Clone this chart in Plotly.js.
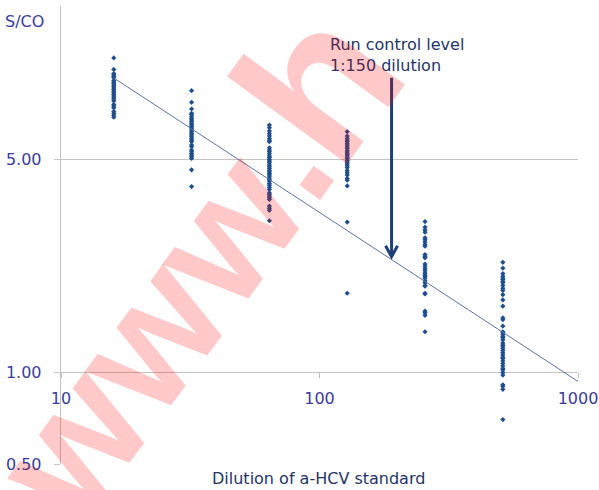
<!DOCTYPE html>
<html><head><meta charset="utf-8">
<script src="https://cdn.plot.ly/plotly-3.0.1.min.js"></script>
<style>html,body{margin:0;padding:0;background:#fff}#chart{width:599px;height:490px}</style>
</head><body><div id="chart"></div>
<script>
// Dilutions of the a-HCV standard (x) and S/CO readings (y)
const dilutions = [16, 32, 64, 128, 256, 512];
const sco16 = [10.8, 9.9, 9.6, 9.5, 9.4, 9.3, 9.1, 9.0, 8.9, 8.8, 8.7, 8.6, 8.5, 8.4, 8.3, 8.2, 8.1, 8.0, 7.9, 7.8, 7.6, 7.5, 7.4, 7.2, 7.1, 7.0, 6.9];
const sco32 = [8.43, 7.72, 7.34, 7.10, 7.02, 6.92, 6.83, 6.75, 6.67, 6.58, 6.50, 6.42, 6.34, 6.26, 6.18, 6.10, 6.03, 5.95, 5.87, 5.80, 5.73, 5.59, 5.52, 5.38, 5.31, 5.24, 5.18, 5.11, 5.05, 4.63, 4.08];
const sco64 = [6.50, 6.37, 6.21, 6.09, 5.98, 5.87, 5.79, 5.73, 5.47, 5.38, 5.31, 5.23, 5.14, 5.08, 5.01, 4.95, 4.89, 4.80, 4.74, 4.68, 4.61, 4.56, 4.50, 4.45, 4.39, 4.31, 4.26, 4.18, 4.12, 4.05, 3.99, 3.89, 3.85, 3.80, 3.75, 3.70, 3.52, 3.46, 3.41, 3.15];
const sco128 = [6.18, 5.98, 5.87, 5.79, 5.73, 5.64, 5.59, 5.50, 5.45, 5.36, 5.30, 5.23, 5.18, 5.10, 5.05, 4.97, 4.91, 4.85, 4.79, 4.71, 4.61, 4.53, 4.45, 4.34, 4.28, 4.10, 3.12, 1.82];
const sco256 = [3.13, 3.00, 2.94, 2.89, 2.77, 2.73, 2.68, 2.63, 2.60, 2.44, 2.41, 2.38, 2.27, 2.23, 2.19, 2.16, 2.12, 2.09, 2.07, 2.04, 2.00, 1.97, 1.93, 1.92, 1.82, 1.81, 1.59, 1.57, 1.54, 1.36];
const sco512 = [2.30, 2.20, 2.11, 2.07, 2.04, 2.02, 1.99, 1.97, 1.93, 1.89, 1.86, 1.80, 1.73, 1.65, 1.51, 1.49, 1.42, 1.36, 1.35, 1.33, 1.31, 1.30, 1.28, 1.25, 1.23, 1.22, 1.20, 1.18, 1.16, 1.14, 1.12, 1.11, 1.09, 1.07, 1.05, 1.03, 1.02, 1.00, 0.98, 0.91, 0.90, 0.88, 0.70];
const scoGroups = [sco16, sco32, sco64, sco128, sco256, sco512];

// Power trend line end points
const trendX = [16, 1000];
const trendY = [9.28, 0.934];

// Run control annotation (dilution 1:150 marker arrow)
const arrowX = 190;
const arrowFromY = 9.3;
const arrowToY = 2.4;

const xTickVals = [10, 100, 1000];
const xTickText = ['10', '100', '1000'];
const yTickVals = [0.5, 1, 5];
const yTickText = ['0.50', '1.00', '5.00'];
const yMin = 0.5, yMax = 16;

// Watermark letters, their centres (pixels) and sizes
const wmLetters = ['w', 'w', 'w', '.', 'h'];
const wmCentres = [[71, 443], [148.5, 336], [226, 229], [279, 156], [317, 83]];
const wmSizes = [170, 170, 170, 170, 205];

const W = 599, H = 490;
const M = {l: 61, r: 21, t: 6, b: 26};
const pw = W - M.l - M.r, ph = H - M.t - M.b;
const px2x = px => (px - M.l) / pw;
const py2y = py => (H - M.b - py) / ph;

const FONT = 'DejaVu Sans, sans-serif';
const tickColor = '#3c3c98';
const navy = '#1f3566';
const markerColor = '#1f4e8c';

const traces = scoGroups.map((vals, i) => ({
  type: 'scatter', mode: 'markers',
  x: vals.map(() => dilutions[i]), y: vals,
  marker: {symbol: 'diamond', size: 4, color: markerColor},
  showlegend: false, hoverinfo: 'x+y'
}));
traces.push({
  type: 'scatter', mode: 'lines', x: trendX, y: trendY,
  line: {color: '#5a72a2', width: 1}, showlegend: false, hoverinfo: 'skip'
});

const lyMin = Math.log10(yMin), lyMax = Math.log10(yMax);

const wmAnnotations = wmLetters.map((ch, i) => ({
  xref: 'paper', yref: 'paper', x: px2x(wmCentres[i][0]), y: py2y(wmCentres[i][1]),
  text: ch, showarrow: false, xanchor: 'center', yanchor: 'middle', textangle: -54,
  font: {family: 'Liberation Sans, Arial, sans-serif', size: wmSizes[i],
         color: 'rgba(255,0,0,0.21)', weight: 'bold'}
}));

const layout = {
  width: W, height: H,
  margin: M,
  paper_bgcolor: '#fff', plot_bgcolor: '#fff',
  font: {family: FONT, size: 16, color: tickColor},
  xaxis: {
    type: 'log', range: [1, 3],
    tickvals: xTickVals, ticktext: xTickText,
    anchor: 'free', position: (0 - lyMin) / (lyMax - lyMin),
    showgrid: false, zeroline: false, showline: false,
    ticks: 'outside', ticklen: 5, tickcolor: '#bdbdbd', tickwidth: 1,
    ticklabelstandoff: 6,
    tickfont: {family: FONT, size: 16, color: tickColor}
  },
  yaxis: {
    type: 'log', range: [lyMin, lyMax],
    tickvals: yTickVals, ticktext: yTickText,
    showgrid: true, gridcolor: '#c3c3c3', gridwidth: 1,
    showline: true, linecolor: '#c3c3c3', linewidth: 1.3,
    zeroline: false,
    ticks: 'outside', ticklen: 6, tickcolor: '#c3c3c3',
    ticklabelstandoff: 9,
    tickfont: {family: FONT, size: 16, color: tickColor}
  },
  shapes: [
    {type: 'line', xref: 'x', yref: 'y', x0: arrowX, x1: arrowX, y0: arrowFromY, y1: arrowToY,
     line: {color: '#1f3f77', width: 3}},
    {type: 'path', xref: 'x', yref: 'y', xsizemode: 'pixel', ysizemode: 'pixel',
     xanchor: arrowX, yanchor: arrowToY,
     path: 'M -6 11 L 0 0 L 6 11',
     line: {color: '#1f3f77', width: 3}}
  ],
  annotations: [
    {xref: 'paper', yref: 'paper', x: px2x(24), y: py2y(22), text: 'S/CO', showarrow: false,
     xanchor: 'center', yanchor: 'middle', font: {family: FONT, size: 16, color: tickColor}},
    {xref: 'paper', yref: 'paper', x: px2x(318), y: py2y(478), text: 'Dilution of a-HCV standard', showarrow: false,
     xanchor: 'center', yanchor: 'middle', font: {family: FONT, size: 16, color: navy}},
    {xref: 'paper', yref: 'paper', x: px2x(328), y: py2y(33), text: 'Run control level<br>1:150 dilution', showarrow: false,
     xanchor: 'left', yanchor: 'top', align: 'left', font: {family: FONT, size: 16, color: navy}}
  ].concat(wmAnnotations)
};

Plotly.newPlot('chart', traces, layout, {displayModeBar: false, staticPlot: true});
</script>
</body></html>
